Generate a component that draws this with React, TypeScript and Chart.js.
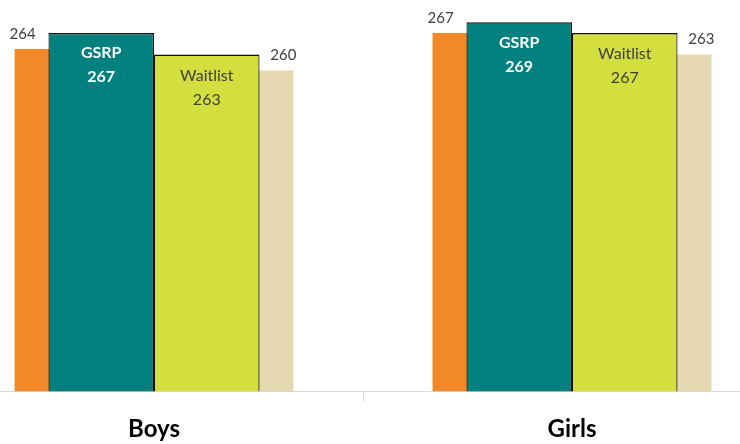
import React, { useEffect, useRef } from "react";
import { Chart, registerables, BarController } from "chart.js";

Chart.register(...registerables);

class BackBarController extends BarController {}
(BackBarController as any).id = "backBar";
(BackBarController as any).defaults = { ...(BarController as any).defaults };
(BackBarController as any).overrides = (BarController as any).overrides;
Chart.register(BackBarController as any);

const categories = ["Boys", "Girls"];
const gsrpValues = [267, 269];
const waitlistValues = [263, 267];
const orangeValues = [264, 267];
const beigeValues = [260, 263];
const gsrpName = "GSRP";
const waitlistName = "Waitlist";
const yMin = 200;
const yMax = 270;

const FONT = "Lato, 'Open Sans', sans-serif";

const labelPlugin = {
  id: "barLabels",
  afterDatasetsDraw(chart: any) {
    const ctx = chart.ctx;
    ctx.save();
    ctx.textAlign = "center";
    ctx.textBaseline = "middle";
    chart.data.datasets.forEach((ds: any, di: number) => {
      const meta = chart.getDatasetMeta(di);
      const kind = ds.labelKind;
      meta.data.forEach((bar: any, i: number) => {
        const v = ds.data[i];
        const p = bar.getProps(["x", "y", "width"], true);
        const left = p.x - p.width / 2;
        const right = p.x + p.width / 2;
        if (kind === "inside-bold") {
          ctx.fillStyle = "#ffffff";
          ctx.font = `bold 16px ${FONT}`;
          ctx.fillText(ds.label, p.x, p.y + 20);
          ctx.fillText(String(v), p.x, p.y + 44);
        } else if (kind === "inside") {
          ctx.fillStyle = "#404040";
          ctx.font = `16px ${FONT}`;
          ctx.fillText(ds.label, p.x, p.y + 21);
          ctx.fillText(String(v), p.x, p.y + 45);
        } else if (kind === "above-left") {
          ctx.fillStyle = "#404040";
          ctx.font = `15px ${FONT}`;
          ctx.fillText(String(v), left + 8, p.y - 15);
        } else if (kind === "above-right") {
          ctx.fillStyle = "#404040";
          ctx.font = `15px ${FONT}`;
          ctx.fillText(String(v), right - 10, p.y - 15);
        }
      });
    });
    ctx.restore();
  },
};

function BarChart() {
  const ref = useRef<HTMLCanvasElement>(null);
  useEffect(() => {
    if (!ref.current) return;
    const chart = new Chart(ref.current, {
      type: "bar",
      data: {
        labels: categories,
        datasets: [
          {
            label: gsrpName,
            data: gsrpValues,
            backgroundColor: "#00807E",
            borderColor: "#111111",
            borderWidth: { top: 1.5, left: 1.2, right: 1.2, bottom: 0 },
            categoryPercentage: 0.505,
            barPercentage: 1,
            order: 0,
            labelKind: "inside-bold",
          } as any,
          {
            label: waitlistName,
            data: waitlistValues,
            backgroundColor: "#D3DF3F",
            borderColor: "#111111",
            borderWidth: { top: 1.5, left: 1.2, right: 1.2, bottom: 0 },
            categoryPercentage: 0.505,
            barPercentage: 1,
            order: 0,
            labelKind: "inside",
          } as any,
          {
            type: "backBar",
            label: "Series A",
            data: orangeValues,
            backgroundColor: "#F1892A",
            borderWidth: 0,
            categoryPercentage: 0.667,
            barPercentage: 1,
            order: 1,
            labelKind: "above-left",
          } as any,
          {
            type: "backBar",
            label: "Series B",
            data: beigeValues,
            backgroundColor: "#E6D8B1",
            borderWidth: 0,
            categoryPercentage: 0.667,
            barPercentage: 1,
            order: 1,
            labelKind: "above-right",
          } as any,
        ],
      },
      options: {
        animation: false,
        responsive: false,
        maintainAspectRatio: false,
        layout: { padding: { top: 17, bottom: 0, left: 0, right: 0 } },
        plugins: {
          legend: { display: false },
          tooltip: { enabled: false },
        },
        scales: {
          x: {
            type: "category",
            position: "bottom",
            offset: true,
            border: { display: true, color: "#D9D9D9", width: 1 },
            grid: {
              display: true,
              drawOnChartArea: false,
              drawTicks: true,
              tickLength: 10,
              color: "#D9D9D9",
              offset: true,
            },
            ticks: {
              color: "#000000",
              font: { family: FONT, size: 24, weight: "bold" },
              padding: 14,
            },
          },
          y: {
            display: false,
            min: yMin,
            max: yMax,
          },
        },
      } as any,
      plugins: [labelPlugin],
    });
    return () => chart.destroy();
  }, []);
  return <canvas ref={ref} width={836} height={458} style={{ width: 836, height: 458, display: "block" }} />;
}

export default function App() {
  return (
    <div style={{ position: "fixed", left: 0, top: 0, width: 740, height: 444, overflow: "hidden", background: "#ffffff" }}>
      <div style={{ position: "absolute", left: -55, top: 0, width: 836, height: 458 }}>
        <BarChart />
      </div>
    </div>
  );
}
